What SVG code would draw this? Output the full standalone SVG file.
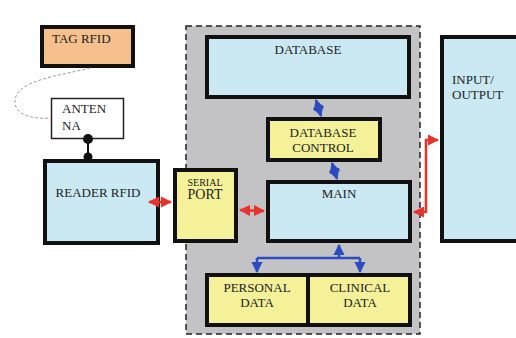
<svg xmlns="http://www.w3.org/2000/svg" width="516" height="338" viewBox="0 0 516 338">
<style>
text{font-family:"Liberation Serif","Times New Roman",serif;font-size:13px;fill:#222;}
.c{text-anchor:middle;}
.box{stroke:#111;stroke-width:4;}
.blue{fill:#cbe9f3;}
.yel{fill:#f4f199;}
.red{stroke:#e8322a;stroke-width:2.5;fill:none;}
.bl{stroke:#2a4cc0;stroke-width:2.5;fill:none;}
</style>
<defs>
<marker id="ar" viewBox="0 0 10 10" refX="9" refY="5" markerWidth="4.5" markerHeight="4.5" orient="auto-start-reverse" markerUnits="strokeWidth"><path d="M0,0 L10,5 L0,10 z" fill="#e8322a"/></marker>
<marker id="ab" viewBox="0 0 10 10" refX="9" refY="5" markerWidth="4.5" markerHeight="4.5" orient="auto-start-reverse" markerUnits="strokeWidth"><path d="M0,0 L10,5 L0,10 z" fill="#2a4cc0"/></marker>
</defs>
<rect width="516" height="338" fill="#ffffff"/>
<g id="region">
<rect x="186" y="26" width="234" height="308" fill="#c3c3c6" stroke="#222" stroke-width="1.5" stroke-dasharray="6,4"/>
</g>
<g id="tag"><rect class="box" x="42" y="27" width="91" height="39" fill="#f6c08d"/><text x="52" y="43">TAG RFID</text></g>
<g id="antenna"><rect x="51.5" y="98.5" width="72" height="40" fill="#fff" stroke="#222" stroke-width="1.5"/><text x="62" y="113">ANTEN</text><text x="62" y="130">NA</text></g>
<g id="reader"><rect class="box blue" x="45" y="161" width="113" height="82"/><text x="98" y="197" class="c">READER RFID</text></g>
<g id="serial"><rect class="box yel" x="175" y="170" width="61" height="71"/><text x="205" y="186" class="c" style="font-size:10px">SERIAL</text><text x="205" y="199" class="c" style="font-size:14px">PORT</text></g>
<g id="database"><rect class="box blue" x="207" y="37" width="202" height="60"/><text x="308" y="54" class="c">DATABASE</text></g>
<g id="dbcontrol"><rect class="box yel" x="268" y="119" width="112" height="41"/><text x="323" y="137" class="c">DATABASE</text><text x="323" y="152" class="c">CONTROL</text></g>
<g id="main"><rect class="box blue" x="268" y="182" width="142" height="59"/><text x="339" y="198" class="c">MAIN</text></g>
<g id="personal"><rect class="box yel" x="207" y="275" width="101" height="50"/><text x="257" y="292" class="c">PERSONAL</text><text x="257" y="307" class="c">DATA</text></g>
<g id="clinical"><rect class="box yel" x="308" y="275" width="102" height="50"/><text x="360" y="292" class="c">CLINICAL</text><text x="360" y="307" class="c">DATA</text></g>
<g id="io"><rect class="box blue" x="442" y="37" width="90" height="204"/><text x="452" y="84">INPUT/</text><text x="452" y="99">OUTPUT</text></g>
<g id="connectors">
<path d="M90,68 C60,76 12,80 15,104 C18,118 40,119 51,118" fill="none" stroke="#9a9a9a" stroke-width="1" stroke-dasharray="3,2"/>
<line x1="88" y1="139" x2="88" y2="160" stroke="#111" stroke-width="2"/>
<circle cx="88" cy="139" r="5" fill="#111"/>
<circle cx="88" cy="157" r="4.5" fill="#111"/>
<line class="red" x1="149" y1="202" x2="171" y2="202" marker-start="url(#ar)" marker-end="url(#ar)"/>
<line class="red" x1="240" y1="210" x2="264" y2="211" marker-start="url(#ar)" marker-end="url(#ar)"/>
<path class="red" d="M426,212 L414,212" marker-end="url(#ar)"/>
<path class="red" d="M426,213 L426,140 L438,140" marker-end="url(#ar)"/>
<line class="bl" x1="316" y1="100" x2="321" y2="116" marker-start="url(#ab)" marker-end="url(#ab)"/>
<line class="bl" x1="332" y1="163" x2="337" y2="179" marker-start="url(#ab)" marker-end="url(#ab)"/>
<path class="bl" d="M339,258 L339,245" marker-end="url(#ab)"/>
<path class="bl" d="M257,258 L360,258"/>
<path class="bl" d="M257,258 L257,272" marker-end="url(#ab)"/>
<path class="bl" d="M360,258 L360,272" marker-end="url(#ab)"/>
</g>
</svg>
